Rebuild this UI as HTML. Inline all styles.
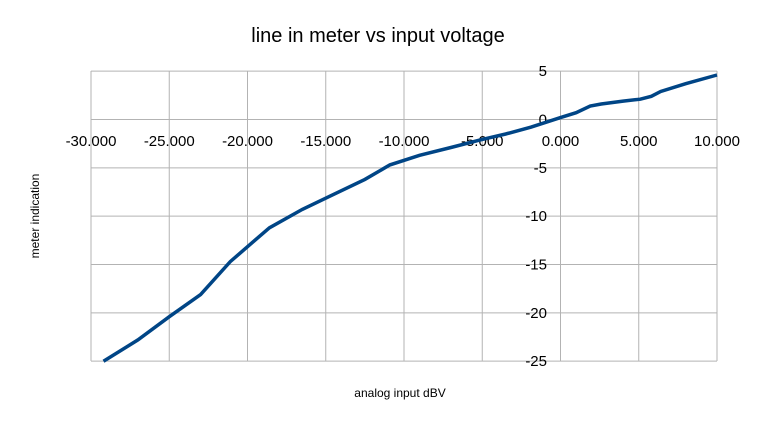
<!DOCTYPE html>
<html><head><meta charset="utf-8"><style>
html,body{margin:0;padding:0;background:#fff;}
svg{display:block;font-family:"Liberation Sans",sans-serif;}
</style></head><body>
<svg id="chart" width="757" height="426">
<text x="378" y="42" text-anchor="middle" font-size="20" fill="#000">line in meter vs input voltage</text>
<g id="grid"></g><g id="ticks"></g>
<path id="line" fill="none" stroke="#004586" stroke-width="3.5"/>
<text transform="translate(39,216) rotate(-90)" text-anchor="middle" font-size="12">meter indication</text>
<text x="400" y="397" text-anchor="middle" font-size="12">analog input dBV</text>
</svg>
<script>
const xTicks=[-30,-25,-20,-15,-10,-5,0,5,10];
const xTickLabels=["-30.000","-25.000","-20.000","-15.000","-10.000","-5.000","0.000","5.000","10.000"];
const yTicks=[5,0,-5,-10,-15,-20,-25];
const xs=[-29.2,-27,-25,-23,-21.1,-18.6,-16.5,-14.7,-12.5,-10.9,-9,-7,-5.1,-3.5,-1.9,0,1,1.9,2.6,4,5.1,5.8,6.4,8,10];
const ys=[-25,-22.8,-20.4,-18.1,-14.7,-11.2,-9.3,-7.9,-6.2,-4.7,-3.7,-2.9,-2.1,-1.5,-0.8,0.2,0.7,1.4,1.6,1.9,2.1,2.4,2.9,3.7,4.6];
const X=v=>91+(v+30)*(717-91)/40;
const Y=v=>119.5-v*(361-71)/30;
const NS="http://www.w3.org/2000/svg";
const grid=document.getElementById('grid'),ticks=document.getElementById('ticks');
function mk(tag,attrs,parent){const e=document.createElementNS(NS,tag);for(const k in attrs)e.setAttribute(k,attrs[k]);parent.appendChild(e);return e;}
yTicks.forEach(v=>{
 const l=mk('line',{x1:91,x2:717,y1:Y(v),y2:Y(v),stroke:'#b3b3b3','stroke-width':1},grid);
 
 
 const t=mk('text',{x:547,y:Y(v)+5,'text-anchor':'end','font-size':15},ticks);
 t.textContent=v;
 
 
});
xTicks.forEach((v,i)=>{
 const l=mk('line',{x1:X(v),x2:X(v),y1:71,y2:361,stroke:'#b3b3b3','stroke-width':1},grid);
 
 
 const t=mk('text',{x:X(v),y:146,'text-anchor':'middle','font-size':15},ticks);
 t.textContent=xTickLabels[i];
 
 
});
const ax=mk('line',{x1:91,x2:717,y1:Y(0),y2:Y(0),stroke:'#b3b3b3','stroke-width':1},grid);


const ay=mk('line',{x1:X(0),x2:X(0),y1:71,y2:361,stroke:'#b3b3b3','stroke-width':1},grid);


document.getElementById('line').setAttribute('d',xs.map((v,i)=>(i?'L':'M')+X(v).toFixed(1)+','+Y(ys[i]).toFixed(1)).join(''));
</script>
</body></html>
